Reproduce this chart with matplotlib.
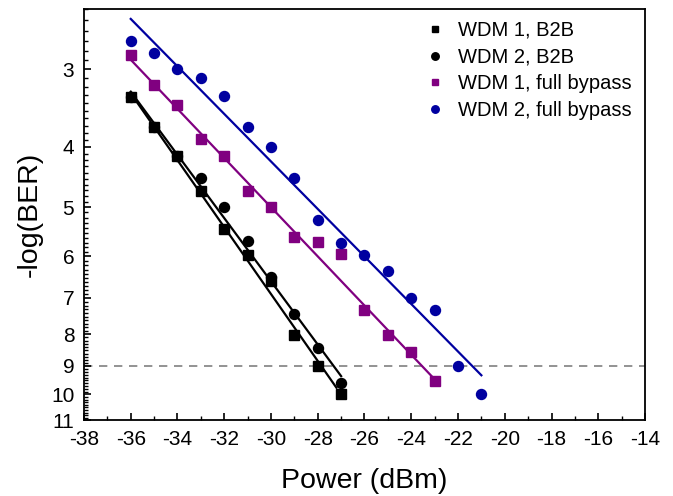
import matplotlib
matplotlib.use('Agg')
import matplotlib.pyplot as plt
from matplotlib.ticker import FixedLocator, FixedFormatter, MultipleLocator, NullFormatter
import numpy as np

plt.rcParams['font.family'] = ['Liberation Sans', 'DejaVu Sans']
plt.rcParams['axes.unicode_minus'] = False

# received power (dBm) and -log(BER)
p_b2b = [-36, -35, -34, -33, -32, -31, -30, -29, -28, -27]
wdm1_b2b = [3.32, 3.71, 4.13, 4.71, 5.42, 5.97, 6.57, 8.03, 9.0, 10.0]
wdm2_b2b = [3.32, 3.71, 4.13, 4.49, 5.0, 5.66, 6.47, 7.43, 8.43, 9.6]

p_wdm1_byp = [-36, -35, -34, -33, -32, -31, -30, -29, -28, -27, -26, -25, -24, -23]
wdm1_byp = [2.85, 3.18, 3.43, 3.89, 4.13, 4.71, 5.0, 5.59, 5.69, 5.95, 7.33,
            8.03, 8.54, 9.52]

p_wdm2_byp = [-36, -35, -34, -33, -32, -31, -30, -29, -28, -27, -26, -25, -24,
              -23, -22, -21]
wdm2_byp = [2.70, 2.82, 3.0, 3.10, 3.31, 3.71, 4.0, 4.49, 5.24, 5.71, 5.97,
            6.33, 7.0, 7.33, 9.0, 10.0]

# fitted lines (end points)
fit_wdm1_b2b_x = [-36, -27.2]
fit_wdm1_b2b_y = [3.28, 9.76]
fit_wdm2_b2b_x = [-36, -27]
fit_wdm2_b2b_y = [3.26, 9.35]
fit_wdm1_byp_x = [-36.1, -23]
fit_wdm1_byp_y = [2.87, 9.46]
fit_wdm2_byp_x = [-36, -21]
fit_wdm2_byp_y = [2.49, 9.32]

ber_limit = 9

black = 'black'
purple = '#800080'
blue = '#0000a0'

fig = plt.figure(figsize=(6.73, 4.96), dpi=100)
ax = fig.add_axes([0.1248, 0.1532, 0.9584 - 0.1248, 0.9819 - 0.1532])

ax.axhline(ber_limit, color='#808080', lw=1.2, ls=(0, (5, 4)), zorder=1)

ax.plot(fit_wdm1_b2b_x, fit_wdm1_b2b_y, color=black, lw=1.6, zorder=2)
ax.plot(fit_wdm2_b2b_x, fit_wdm2_b2b_y, color=black, lw=1.6, zorder=2)
ax.plot(fit_wdm1_byp_x, fit_wdm1_byp_y, color=purple, lw=1.6, zorder=2)
ax.plot(fit_wdm2_byp_x, fit_wdm2_byp_y, color=blue, lw=1.6, zorder=2)

ax.plot(p_b2b, wdm1_b2b, 's', color=black, ms=6.5, label='WDM 1, B2B', zorder=3)
ax.plot(p_b2b, wdm2_b2b, 'o', color=black, ms=7.2, label='WDM 2, B2B', zorder=3)
ax.plot(p_wdm1_byp, wdm1_byp, 's', color=purple, ms=6.5,
        label='WDM 1, full bypass', zorder=3)
ax.plot(p_wdm2_byp, wdm2_byp, 'o', color=blue, ms=7.2,
        label='WDM 2, full bypass', zorder=3)

ax.set_yscale('log')
ax.set_ylim(11, 2.4)
ax.yaxis.set_major_locator(FixedLocator(np.arange(3, 12)))
ax.yaxis.set_minor_locator(FixedLocator(np.arange(24, 111) / 10))
ax.yaxis.set_major_formatter(FixedFormatter([str(v) for v in range(3, 12)]))
ax.yaxis.set_minor_formatter(NullFormatter())

ax.set_xlim(-38, -14)
ax.xaxis.set_major_locator(MultipleLocator(2))
ax.xaxis.set_minor_locator(MultipleLocator(1))

ax.tick_params(which='major', direction='in', length=5, width=1.2,
               labelsize=15, pad=7)
ax.tick_params(which='minor', direction='in', length=3, width=1)
for s in ax.spines.values():
    s.set_linewidth(1.3)

ax.set_xlabel('Power (dBm)', fontsize=20.5, labelpad=14)
ax.set_ylabel('-log(BER)', fontsize=20.5, labelpad=6)

leg = ax.legend(loc='upper right', frameon=False, fontsize=14.5,
                markerscale=0.75, handletextpad=0.55, labelspacing=0.38,
                handlelength=1.2, bbox_to_anchor=(1.008, 1.015))

fig.savefig('out.png', dpi=100)
